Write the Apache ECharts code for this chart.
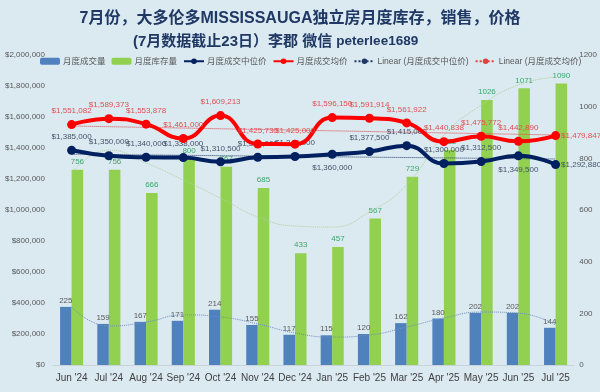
<!DOCTYPE html>
<html><head><meta charset="utf-8">
<script src="https://cdn.jsdelivr.net/npm/echarts@6/dist/echarts.min.js"></script>
<style>html,body{margin:0;padding:0;background:#dbe9f1}#c{width:600px;height:392px}</style>
</head><body><div id="c"></div>
<script>
const months = ["Jun '24","Jul '24","Aug '24","Sep '24","Oct '24","Nov '24","Dec '24","Jan '25","Feb '25","Mar '25","Apr '25","May '25","Jun '25","Jul '25"];
const sales = [225,159,167,171,214,155,117,115,120,162,180,202,202,144];
const inventory = [756,756,666,800,767,685,433,457,567,729,832,1026,1071,1090];
const medianPrice = [1385000,1350000,1340000,1338000,1310500,1340000,1345000,1360000,1377500,1415000,1300000,1312500,1349500,1292880];
const avgPrice = [1551082,1589373,1553878,1461000,1609213,1425730,1425000,1596150,1591914,1561922,1440838,1475772,1442890,1479847];
const salesTrend = [225,151,166,194,186,159,124,108,116,147,182,205,201,155];
const inventoryTrend = [743,832,782,716,646,573,538,534,592,697,890,1006,1084,1115];
const medianLinear = [1360000,null,null,null,null,null,null,null,null,null,null,null,null,1329000];
const avgLinear = [1542000,null,null,null,null,null,null,null,null,null,null,null,null,1484000];
const leftTicks = {min:0,max:2000000,interval:200000};
const rightTicks = {min:0,max:1200,interval:200};

const medianLabelPos = ['top','top','top','top','top','top','top','bottom','top','top','top','top','bottom','right'];
const avgLabelPos = ['top','top','top','top','top','top','top','top','top','top','top','top','top','right'];

const fmt = v => '$' + Number(v).toLocaleString('en-US');
const SANS = "'Liberation Sans', 'Noto Sans CJK SC', sans-serif";
const TITLE_FONT = "'Liberation Sans', 'Noto Sans CJK SC', sans-serif";
const chart = echarts.init(document.getElementById('c'));
chart.setOption({
  backgroundColor:'#dbe9f1',
  animation:false,
  textStyle:{fontFamily:SANS},
  title:[
    {text:'7月份，大多伦多MISSISSAUGA独立房月度库存，销售，价格',left:'center',top:6,
      textStyle:{fontSize:16,fontWeight:'bold',color:'#1f3864',fontFamily:TITLE_FONT}},
    {text:'{c|(7月数据截止23日）李郡 微信 }{l|peterlee1689}',left:128,top:29,
      textStyle:{rich:{
        c:{fontSize:15,fontWeight:'bold',color:'#1f3864',fontFamily:TITLE_FONT},
        l:{fontSize:13.5,fontWeight:'bold',color:'#1f3864',fontFamily:TITLE_FONT}}}}
  ],
  legend:{top:57,left:40,right:0,padding:0,itemGap:6,itemWidth:20,itemHeight:7,
    textStyle:{fontSize:8.5,color:'#595959',fontFamily:SANS,padding:[0,0,0,-2]},
    data:['月度成交量','月度库存量','月度成交中位价','月度成交均价','Linear (月度成交中位价)','Linear (月度成交均价)']},
  grid:{left:53,right:24,top:55,bottom:27},
  xAxis:{type:'category',data:months,axisTick:{show:false},
    axisLine:{lineStyle:{color:'#c8d3da'}},
    axisLabel:{interval:0,fontSize:10,color:'#404040',margin:8}},
  yAxis:[
    {type:'value',min:leftTicks.min,max:leftTicks.max,interval:leftTicks.interval,splitLine:{show:false},
      axisLabel:{fontSize:8,color:'#595959',formatter:v=>v===0?'$0':fmt(v)}},
    {type:'value',min:rightTicks.min,max:rightTicks.max,interval:rightTicks.interval,splitLine:{show:false},position:'right',
      axisLabel:{fontSize:8,color:'#595959',margin:5,formatter:v=>String(v)}}
  ],
  series:[
    {name:'月度成交量',type:'bar',yAxisIndex:1,data:sales,barWidth:'31%',barGap:'0%',itemStyle:{color:'#4f81bd'},
      label:{show:true,position:'top',fontSize:8,color:'#595959',distance:2}},
    {name:'月度库存量',type:'bar',yAxisIndex:1,data:inventory,barWidth:'31%',barGap:'0%',itemStyle:{color:'#92d050'},
      label:{show:true,position:'top',fontSize:8,color:'#3aa86a',distance:4}},
    {name:'salesTrend',type:'line',yAxisIndex:1,data:salesTrend,smooth:true,symbol:'none',
      lineStyle:{color:'#6f8fc0',width:1,type:'dotted'},z:3,silent:true},
    {name:'inventoryTrend',type:'line',yAxisIndex:1,data:inventoryTrend,smooth:true,symbol:'none',
      lineStyle:{color:'#aed49a',width:1,type:'dotted'},z:3,silent:true},
    {name:'Linear (月度成交中位价)',type:'line',data:medianLinear,connectNulls:true,symbol:'none',
      lineStyle:{color:'#1f3864',width:1,type:'dotted'},itemStyle:{color:'#1f3864'},z:4},
    {name:'Linear (月度成交均价)',type:'line',data:avgLinear,connectNulls:true,symbol:'none',
      lineStyle:{color:'#e04040',width:1,type:'dotted'},itemStyle:{color:'#e04040'},z:4},
    {name:'月度成交中位价',type:'line',data:medianPrice.map((v,i)=>({value:v,label:{position:medianLabelPos[i],distance:medianLabelPos[i]==='right'?1:5}})),
      smooth:true,symbol:'circle',symbolSize:9,
      lineStyle:{color:'#002060',width:4},itemStyle:{color:'#002060'},z:6,
      label:{show:true,fontSize:8,color:'#44546a',formatter:p=>fmt(p.value)}},
    {name:'月度成交均价',type:'line',data:avgPrice.map((v,i)=>({value:v,label:{position:avgLabelPos[i],distance:avgLabelPos[i]==='right'?1:5}})),
      smooth:true,symbol:'circle',symbolSize:9,
      lineStyle:{color:'#ff0000',width:4},itemStyle:{color:'#ff0000'},z:7,
      label:{show:true,fontSize:8,color:'#e05050',formatter:p=>fmt(p.value)}}
  ]
});
</script></body></html>
